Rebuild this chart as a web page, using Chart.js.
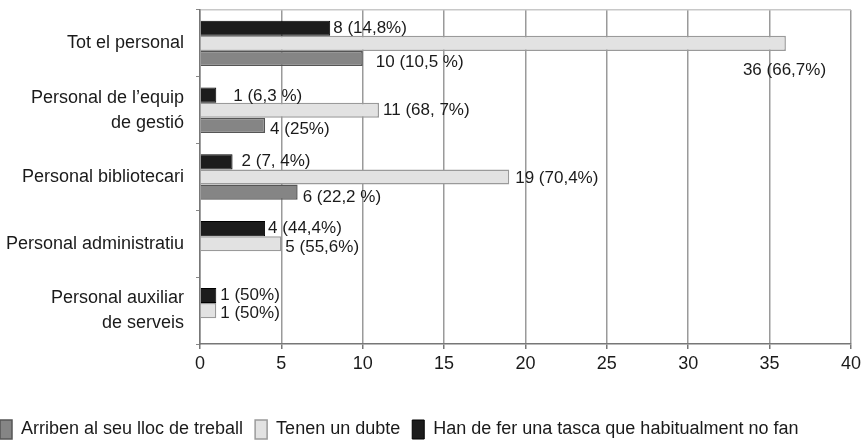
<!DOCTYPE html>
<html>
<head>
<meta charset="utf-8">
<script src="https://cdn.jsdelivr.net/npm/chart.js@4/dist/chart.umd.min.js"></script>
<style>
html,body{margin:0;padding:0;background:#fff;}
#wrap{width:865px;height:440px;position:relative;}
</style>
</head>
<body>
<div id="wrap"><canvas id="c" width="865" height="440"></canvas></div>
<script>
const categories = [
  "Tot el personal",
  ["Personal de l\u2019equip", "de gesti\u00f3"],
  "Personal bibliotecari",
  "Personal administratiu",
  ["Personal auxiliar", "de serveis"]
];
const seriesNames = [
  "Han de fer una tasca que habitualment no fan",
  "Tenen un dubte",
  "Arriben al seu lloc de treball"
];
const tascaValues = [8, 1, 2, 4, 1];
const dubteValues = [36, 11, 19, 5, 1];
const arribenValues = [10, 4, 6, null, null];
const tascaLabels = ["8 (14,8%)", "1 (6,3 %)", "2 (7, 4%)", "4 (44,4%)", "1 (50%)"];
const dubteLabels = ["36 (66,7%)", "11 (68, 7%)", "19 (70,4%)", "5 (55,6%)", "1 (50%)"];
const arribenLabels = ["10 (10,5 %)", "4 (25%)", "6 (22,2 %)", "", ""];
const xTicks = [0, 5, 10, 15, 20, 25, 30, 35, 40];

const FONT = "'Liberation Sans', Arial, sans-serif";

// label nudges [dx, dy] relative to bar end / bar centre
const labelNudges = [
  [[3,0],[17,1],[9,-1],[3,0],[4,0]],
  [[-43,27],[4,0],[6,1],[4,4],[4,3]],
  [[13,4],[5,4],[5,5],[0,0],[0,0]]
];

const valueLabelPlugin = {
  id: 'valueLabels',
  afterDatasetsDraw(chart) {
    const ctx = chart.ctx;
    const allLabels = [tascaLabels, dubteLabels, arribenLabels];
    ctx.save();
    ctx.font = "17px " + FONT;
    ctx.fillStyle = "#1a1a1a";
    ctx.textAlign = "left";
    ctx.textBaseline = "middle";
    chart.data.datasets.forEach((ds, di) => {
      const meta = chart.getDatasetMeta(di);
      meta.data.forEach((bar, i) => {
        const v = ds.data[i];
        if (v === null || v === undefined) return;
        const t = allLabels[di][i];
        if (!t) return;
        const n = labelNudges[di][i];
        ctx.fillText(t, bar.x + n[0], bar.y + n[1]);
      });
    });
    ctx.restore();
  }
};

new Chart(document.getElementById('c'), {
  type: 'bar',
  data: {
    labels: categories,
    datasets: [
      { label: seriesNames[0], data: tascaValues, backgroundColor: '#1c1c1c', borderColor: '#000000', borderWidth: 1 },
      { label: seriesNames[1], data: dubteValues, backgroundColor: '#e2e2e2', borderColor: '#9a9a9a', borderWidth: 1.5 },
      { label: seriesNames[2], data: arribenValues, backgroundColor: '#858585', borderColor: '#555555', borderWidth: 1.5 }
    ]
  },
  options: {
    indexAxis: 'y',
    responsive: false,
    animation: false,
    devicePixelRatio: 1,
    layout: { padding: { left: -12, right: 14, top: 10, bottom: -9 } },
    datasets: { bar: { categoryPercentage: 0.68, barPercentage: 1.0 } },
    scales: {
      x: {
        type: 'linear',
        min: 0, max: 40,
        afterBuildTicks: (s) => { s.ticks = xTicks.map(v => ({ value: v })); },
        afterFit: (s) => { s.height = 64; },
        grid: { color: '#9a9a9a', lineWidth: 1.5, tickLength: 5, tickColor: '#777' },
        border: { color: '#777', width: 1.5 },
        ticks: { color: '#1a1a1a', font: { family: FONT, size: 18 }, padding: 4 }
      },
      x2: {
        type: 'linear',
        position: 'top',
        min: 0, max: 40,
        grid: { drawOnChartArea: false, drawTicks: false },
        ticks: { display: false },
        border: { color: '#c8c8c8', width: 1.5 },
        afterFit: (s) => { s.height = 0; s.paddingLeft = 0; s.paddingRight = 0; }
      },
      y: {
        type: 'category',
        afterFit: (s) => { s.width = 212; s.paddingTop = 0; s.paddingBottom = 0; },
        grid: { drawOnChartArea: false, tickLength: 4, tickColor: '#888', offset: true },
        border: { color: '#777', width: 1.5 },
        ticks: { color: '#1a1a1a', font: { family: FONT, size: 18, lineHeight: 1.4 }, padding: 12 }
      }
    },
    plugins: {
      legend: {
        position: 'bottom',
        align: 'start',
        reverse: true,
        labels: {
          boxWidth: 12,
          boxHeight: 19,
          padding: 12,
          color: '#1a1a1a',
          font: { family: FONT, size: 18 }
        }
      },
      tooltip: { enabled: false }
    }
  },
  plugins: [valueLabelPlugin]
});
</script>
</body>
</html>
